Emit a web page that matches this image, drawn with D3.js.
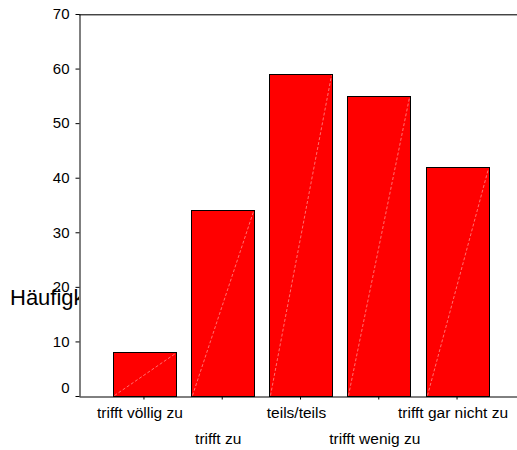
<!DOCTYPE html>
<html>
<head>
<meta charset="utf-8">
<script src="https://cdn.jsdelivr.net/npm/d3@7"></script>
<style>
  html, body { margin: 0; padding: 0; background: #fff; }
  svg { display: block; font-family: "Liberation Sans", Arial, sans-serif; }
</style>
</head>
<body>
<svg id="chart" width="517" height="450"></svg>
<script>
const categories = ["trifft völlig zu", "trifft zu", "teils/teils", "trifft wenig zu", "trifft gar nicht zu"];
const counts = [8, 34, 59, 55, 42];
const yTicks = [0, 10, 20, 30, 40, 50, 60, 70];
const yLabel = "Häufigkeit";

(function () {
const svg = d3.select("#chart");
const W = 517, H = 450;
const mLeft = 79, mTop = 14, mBottom = 396, mRight = 522;

const x = d3.scaleBand().domain(categories).range([mLeft, mRight]).paddingInner(0.2).paddingOuter(0.43);
const y = d3.scaleLinear().domain([0, 70]).range([mBottom, mTop]);

// y label (clipped at the axis)
svg.append("clipPath").attr("id", "lblclip")
  .append("rect").attr("x", 0).attr("y", 0).attr("width", mLeft).attr("height", H);
svg.append("text")
  .attr("clip-path", "url(#lblclip)")
  .attr("x", 10).attr("y", 305)
  .attr("font-size", 22).attr("fill", "#000")
  .text(yLabel);

// top frame line
svg.append("line")
  .attr("x1", mLeft - 3).attr("x2", W)
  .attr("y1", y(70) + 0.5).attr("y2", y(70) + 0.5)
  .attr("stroke", "#444").attr("stroke-width", 1);
svg.append("line")
  .attr("x1", mLeft).attr("x2", W)
  .attr("y1", y(70) + 1.5).attr("y2", y(70) + 1.5)
  .attr("stroke", "#aaa").attr("stroke-width", 1);

// bars
const bars = svg.append("g");
bars.selectAll("rect").data(counts).join("rect")
  .attr("x", (d, i) => Math.round(x(categories[i])) + 0.5)
  .attr("y", d => Math.round(y(d)) + 0.5)
  .attr("width", Math.round(x.bandwidth()))
  .attr("height", d => Math.round(y(0)) - Math.round(y(d)))
  .attr("fill", "#ff0000")
  .attr("stroke", "#000").attr("stroke-width", 1);
bars.selectAll("line").data(counts).join("line")
  .attr("x1", (d, i) => Math.round(x(categories[i])) + 1.5)
  .attr("y1", y(0) - 0.5)
  .attr("x2", (d, i) => Math.round(x(categories[i])) + Math.round(x.bandwidth()) - 0.5)
  .attr("y2", d => Math.round(y(d)) + 1.5)
  .attr("stroke", "#ffa0a0").attr("stroke-width", 0.7)
  .attr("stroke-dasharray", "3,2");

// y axis
const yAxis = svg.append("g")
  .attr("transform", `translate(${mLeft + 0.5},0)`)
  .call(d3.axisLeft(y).tickValues(yTicks).tickSize(4).tickSizeOuter(0).tickPadding(6));
yAxis.select(".domain").attr("stroke", "#000");
yAxis.selectAll(".tick line").attr("stroke", "#000");
yAxis.selectAll(".tick text")
  .attr("font-size", 15).attr("fill", "#000")
  .attr("font-family", "Liberation Sans, Arial, sans-serif");
yAxis.selectAll(".tick").filter(d => d === 0).select("text").attr("dy", "-0.22em");

// x axis
const xAxis = svg.append("g")
  .attr("transform", `translate(0,${mBottom + 0.5})`)
  .call(d3.axisBottom(x).tickSize(3).tickSizeOuter(0).tickPadding(8));
xAxis.select(".domain").attr("stroke", "#000");
xAxis.selectAll(".tick line").attr("stroke", "#000");
xAxis.selectAll(".tick text")
  .attr("font-size", 15.5).attr("fill", "#000")
  .attr("font-family", "Liberation Sans, Arial, sans-serif")
  .attr("dx", -4)
  .attr("y", (d, i) => i % 2 === 0 ? 10 : 36);
})();
</script>
</body>
</html>
